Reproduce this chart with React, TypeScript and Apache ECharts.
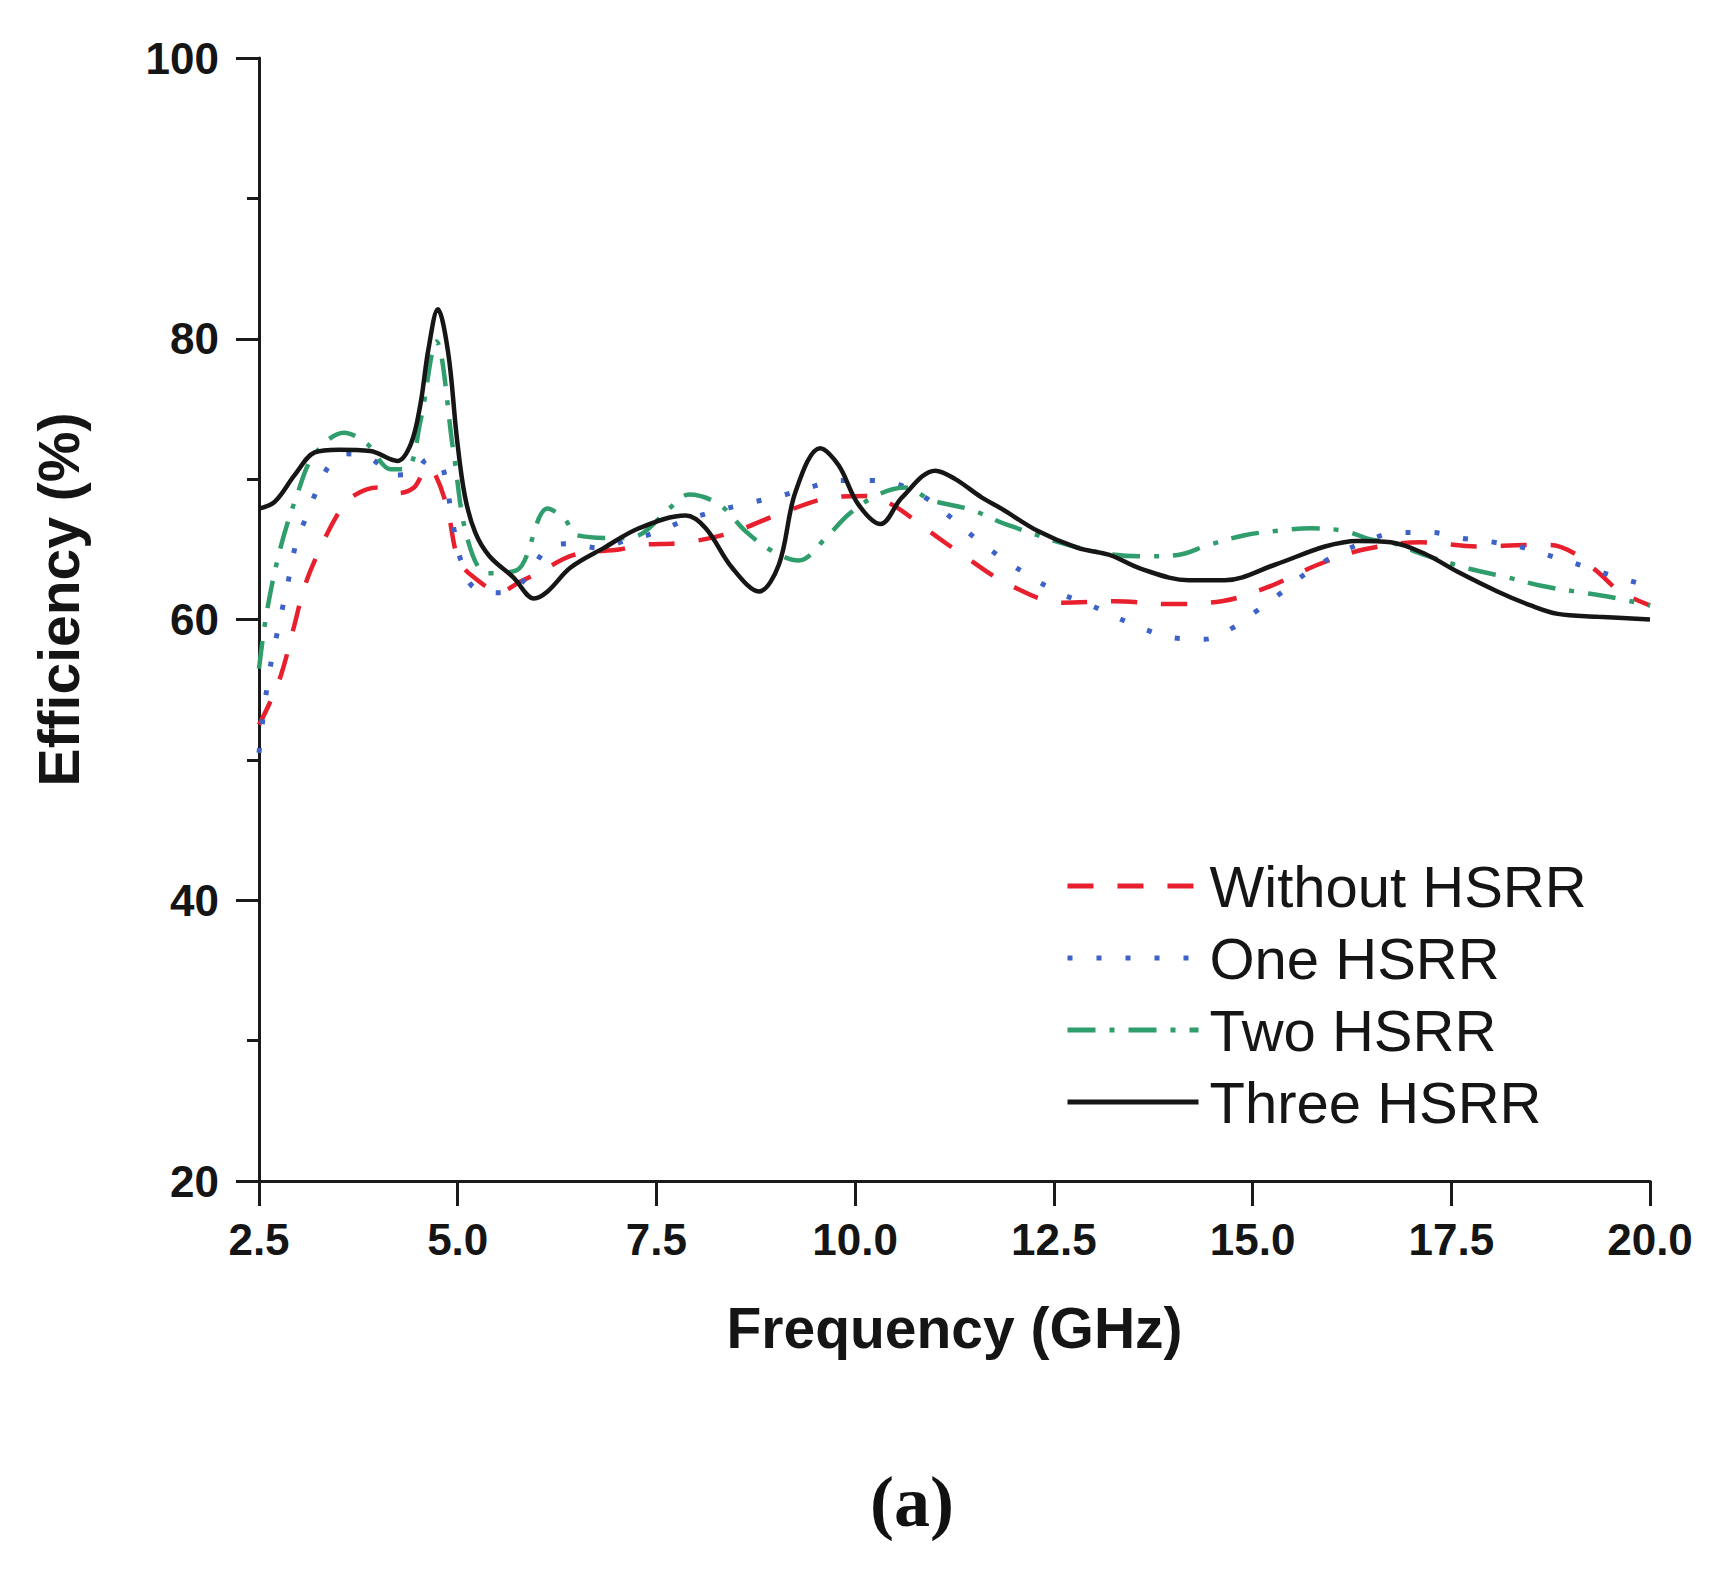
import React, { useEffect, useRef } from "react";
import * as echarts from "echarts";

const xTicks = [2.5, 5.0, 7.5, 10.0, 12.5, 15.0, 17.5, 20.0];
const yTicks = [20, 40, 60, 80, 100];
const seriesNames = ["Without HSRR", "One HSRR", "Two HSRR", "Three HSRR"];

const withoutHSRR: number[][] = [
  [2.5, 52.5], [2.63, 54.0], [2.78, 56.1], [2.95, 59.7], [3.07, 62.3], [3.24, 64.7], [3.49, 67.5],
  [3.66, 68.7], [3.99, 69.4], [4.24, 69.0], [4.45, 69.4], [4.62, 70.8], [4.72, 70.3], [4.87, 67.9],
  [5.0, 64.4], [5.16, 63.2], [5.54, 62.0], [5.79, 62.7], [6.04, 63.4], [6.46, 64.6], [7.05, 65.0],
  [7.28, 65.3], [7.87, 65.5], [8.45, 66.2], [9.04, 67.5], [9.71, 68.7], [10.13, 68.8], [10.46, 68.2],
  [10.88, 66.5], [11.38, 64.5], [11.93, 62.5], [12.6, 61.2], [13.27, 61.3], [13.94, 61.1], [14.61, 61.3],
  [15.19, 62.3], [15.82, 63.9], [16.41, 65.0], [17.12, 65.5], [17.83, 65.2], [18.46, 65.3], [18.75, 65.3],
  [19.05, 64.7], [19.34, 63.4], [19.62, 62.0], [20.0, 61.0],
];

const oneHSRR: number[][] = [
  [2.5, 50.5], [2.62, 55.9], [2.78, 60.4], [2.87, 62.8], [2.97, 65.5], [3.08, 67.1], [3.22, 69.1],
  [3.39, 71.0], [3.6, 71.8], [3.9, 71.5], [4.2, 70.3], [4.45, 70.4], [4.62, 71.4], [4.78, 71.2],
  [4.95, 66.5], [5.04, 64.2], [5.2, 62.3], [5.58, 61.9], [5.87, 63.0], [6.13, 65.1], [6.42, 65.4],
  [6.76, 65.1], [7.1, 65.6], [7.49, 66.2], [7.87, 67.1], [8.24, 67.7], [8.66, 68.3], [9.06, 68.8],
  [9.42, 69.4], [9.83, 69.9], [10.21, 69.9], [10.55, 69.6], [10.88, 68.7], [11.22, 67.2], [11.51, 65.8],
  [11.84, 64.4], [12.22, 63.0], [12.56, 61.9], [12.93, 61.1], [13.27, 60.2], [13.6, 59.4], [14.0, 58.7],
  [14.4, 58.6], [14.75, 59.4], [15.05, 60.6], [15.36, 61.9], [15.7, 63.4], [16.05, 64.6], [16.4, 65.5],
  [16.82, 66.2], [17.25, 66.2], [17.62, 65.8], [18.04, 65.5], [18.42, 65.1], [18.82, 64.4], [19.22, 63.7],
  [19.59, 63.0], [20.0, 62.4],
];

const twoHSRR: number[][] = [
  [2.5, 56.5], [2.6, 60.6], [2.77, 65.1], [2.98, 68.9], [3.19, 71.7], [3.57, 73.3], [3.86, 72.5],
  [4.16, 70.7], [4.37, 70.8], [4.53, 74.1], [4.73, 79.8], [4.95, 71.8], [5.12, 65.8],
  [5.37, 63.3], [5.74, 63.5], [6.13, 67.9], [6.34, 67.2], [6.5, 66.0], [7.0, 65.8], [7.28, 66.0],
  [7.66, 67.9], [7.91, 68.9], [8.29, 68.2], [8.62, 66.3], [8.95, 64.9], [9.29, 64.2], [9.63, 65.8],
  [9.92, 67.5], [10.29, 68.9], [10.63, 69.4], [10.96, 68.5], [11.47, 67.8], [11.89, 66.8], [12.89, 65.0],
  [13.6, 64.5], [14.06, 64.6], [14.44, 65.3], [14.9, 66.0], [15.28, 66.3], [15.74, 66.5], [16.16, 66.3],
  [16.49, 65.7], [16.74, 65.5], [17.16, 64.6], [17.74, 63.6], [18.21, 63.0], [18.63, 62.4], [19.05, 62.0],
  [19.5, 61.6], [20.0, 61.0],
];

const threeHSRR: number[][] = [
  [2.5, 67.9], [2.7, 68.4], [2.95, 70.3], [3.2, 71.9], [3.5, 72.1], [3.9, 72.0], [4.24, 71.3],
  [4.41, 72.5], [4.53, 75.3], [4.63, 79.2], [4.75, 82.1], [4.88, 79.0], [4.99, 72.9],
  [5.09, 68.8], [5.22, 66.2], [5.4, 64.5], [5.7, 63.0], [5.96, 61.5], [6.13, 62.0], [6.42, 63.7],
  [6.84, 65.1], [7.28, 66.5], [7.87, 67.4], [8.12, 66.5], [8.45, 63.7], [8.79, 62.0], [9.04, 63.9],
  [9.25, 69.1], [9.56, 72.2], [9.79, 71.0], [10.04, 68.2], [10.32, 66.8], [10.59, 68.7], [11.01, 70.6],
  [11.26, 70.0], [11.59, 68.7], [11.84, 67.9], [12.3, 66.3], [12.8, 65.1], [13.2, 64.6], [13.6, 63.6],
  [14.2, 62.8], [14.65, 62.8], [15.28, 63.9], [15.91, 65.2], [16.32, 65.6], [16.74, 65.5], [17.16, 64.7],
  [17.58, 63.4], [18.08, 62.0], [18.5, 61.0], [18.84, 60.4], [19.34, 60.2], [20.0, 60.0],
];

const AXIS = "#1a1a1a";
const FONT = "'Liberation Sans', Arial, sans-serif";

export default function App() {
  const ref = useRef<HTMLDivElement>(null);
  useEffect(() => {
    if (!ref.current) return;
    const chart = echarts.init(ref.current, null, { renderer: "svg" });
    const mk = (name: string, data: number[][], color: string, type: any, width: number) => ({
      name,
      type: "line",
      data,
      smooth: 0.35,
      symbol: "none",
      lineStyle: { color, width, type },
      itemStyle: { color },
      z: 2,
    });
    chart.setOption({
      animation: false,
      backgroundColor: "#ffffff",
      grid: { left: 259, right: 67, top: 58, bottom: 390, containLabel: false },
      legend: {
        orient: "vertical",
        left: 1060,
        top: 851,
        itemWidth: 131,
        itemHeight: 10,
        itemGap: 12,
        data: seriesNames,
        itemStyle: { opacity: 0 },
        lineStyle: { width: 5 },
        textStyle: {
          fontFamily: FONT,
          fontSize: 58,
          lineHeight: 60,
          color: "#151515",
          padding: [0, 0, 0, 6],
        },
      },
      xAxis: {
        type: "value",
        min: xTicks[0],
        max: xTicks[xTicks.length - 1],
        interval: 2.5,
        name: "Frequency (GHz)",
        nameLocation: "middle",
        nameGap: 118,
        nameTextStyle: { fontFamily: FONT, fontSize: 57, fontWeight: "bold", color: "#151515" },
        axisLine: { show: true, lineStyle: { color: AXIS, width: 3 } },
        axisTick: { show: true, inside: false, length: 25, lineStyle: { color: AXIS, width: 3 } },
        axisLabel: {
          fontFamily: FONT,
          fontSize: 44,
          fontWeight: "bold",
          color: "#151515",
          margin: 36,
          formatter: (v: number) => v.toFixed(1),
        },
        splitLine: { show: false },
      },
      yAxis: {
        type: "value",
        min: yTicks[0],
        max: yTicks[yTicks.length - 1],
        interval: 20,
        name: "Efficiency (%)",
        nameLocation: "middle",
        nameRotate: 90,
        nameGap: 172,
        nameTextStyle: {
          fontFamily: FONT,
          fontSize: 57,
          fontWeight: "bold",
          color: "#151515",
          padding: [0, 0, 0, 40],
        },
        axisLine: { show: true, lineStyle: { color: AXIS, width: 3 } },
        axisTick: { show: true, inside: false, length: 23, lineStyle: { color: AXIS, width: 3 } },
        minorTick: { show: true, splitNumber: 2, length: 12, lineStyle: { color: AXIS, width: 3 } },
        axisLabel: {
          fontFamily: FONT,
          fontSize: 44,
          fontWeight: "bold",
          color: "#151515",
          margin: 40,
        },
        splitLine: { show: false },
      },
      series: [
        mk(seriesNames[0], withoutHSRR, "#e8202e", [26, 24], 4.5),
        mk(seriesNames[1], oneHSRR, "#3d63c8", [5, 24], 5),
        mk(seriesNames[2], twoHSRR, "#2f9e6c", [28, 14, 5, 14], 4.5),
        mk(seriesNames[3], threeHSRR, "#161616", "solid", 4.5),
      ],
      graphic: [
        {
          type: "text",
          left: 870,
          top: 1466,
          style: {
            text: "(a)",
            fontFamily: "'Liberation Serif', 'DejaVu Serif', serif",
            fontSize: 72,
            fontWeight: "bold",
            fill: "#111",
          },
        },
      ],
    });
    return () => chart.dispose();
  }, []);
  return (
    <div
      ref={ref}
      style={{ position: "fixed", left: 0, top: 0, width: 1717, height: 1571, background: "#fff" }}
    />
  );
}
